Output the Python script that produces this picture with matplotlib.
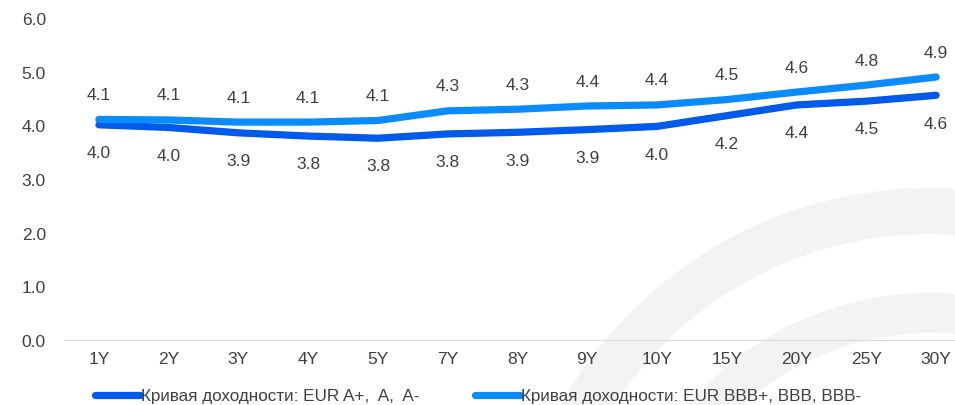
import matplotlib.pyplot as plt
from matplotlib.patches import Wedge
import numpy as np

tenors = ["1Y", "2Y", "3Y", "4Y", "5Y", "7Y", "8Y", "9Y", "10Y", "15Y", "20Y", "25Y", "30Y"]
eur_a = [4.01, 3.96, 3.86, 3.80, 3.76, 3.84, 3.87, 3.92, 3.98, 4.18, 4.38, 4.45, 4.56]
eur_bbb = [4.11, 4.10, 4.06, 4.06, 4.09, 4.27, 4.30, 4.36, 4.38, 4.48, 4.62, 4.75, 4.90]
lbl_a = "Кривая доходности: EUR A+,  A,  A-"
lbl_bbb = "Кривая доходности: EUR BBB+, BBB, BBB-"

c_dark = "#005AEB"
c_light = "#0A8CFF"
txt = "#404040"
fs = 12.5

plt.rcParams['font.family'] = ['Liberation Sans', 'DejaVu Sans']

fig = plt.figure(figsize=(9.55, 4.06), dpi=100)

# watermark arcs in the background
bg = fig.add_axes([0, 0, 1, 1], zorder=0)
bg.set_xlim(0, 955)
bg.set_ylim(406, 0)
bg.axis("off")
bg.add_patch(Wedge((930, 612), 423, 180, 360, width=46, color="#F3F3F3", lw=0))
bg.add_patch(Wedge((930, 612), 318, 180, 360, width=40, color="#F3F3F3", lw=0))

ax = fig.add_axes([64 / 955, 1 - 341 / 406, 907 / 955, (341 - 19) / 406], zorder=1)
ax.patch.set_alpha(0)
x = np.arange(len(tenors))
ax.plot(x, eur_a, color=c_dark, lw=5.2, solid_capstyle="round", label=lbl_a)
ax.plot(x, eur_bbb, color=c_light, lw=5.2, solid_capstyle="round", label=lbl_bbb)

for i in range(len(tenors)):
    ax.annotate(f"{eur_a[i]:.1f}", (x[i], eur_a[i]), xytext=(0, -20), textcoords="offset points",
                ha="center", va="center", fontsize=fs, color=txt)
    ax.annotate(f"{eur_bbb[i]:.1f}", (x[i], eur_bbb[i]), xytext=(0, 18), textcoords="offset points",
                ha="center", va="center", fontsize=fs, color=txt)

ax.set_xlim(-0.5, len(tenors) - 0.5)
ax.set_ylim(0, 6)
ax.set_yticks(np.arange(0, 6.1, 1.0))
ax.set_yticklabels([f"{v:.1f}" for v in np.arange(0, 6.1, 1.0)])
ax.set_xticks(x)
ax.set_xticklabels(tenors)
ax.tick_params(length=0, labelsize=fs, labelcolor=txt)
ax.tick_params(axis="y", pad=13)
ax.tick_params(axis="x", pad=8)
for s in ["top", "right", "left"]:
    ax.spines[s].set_visible(False)
ax.spines["bottom"].set_color("#D9D9D9")

fig.legend(loc="center", bbox_to_anchor=(478 / 955, 1 - 397 / 406), ncol=2, frameon=False,
           fontsize=12.3, handlelength=2.6, handletextpad=0.05, columnspacing=3.3,
           labelcolor=txt)

fig.savefig("out.png", dpi=100)
